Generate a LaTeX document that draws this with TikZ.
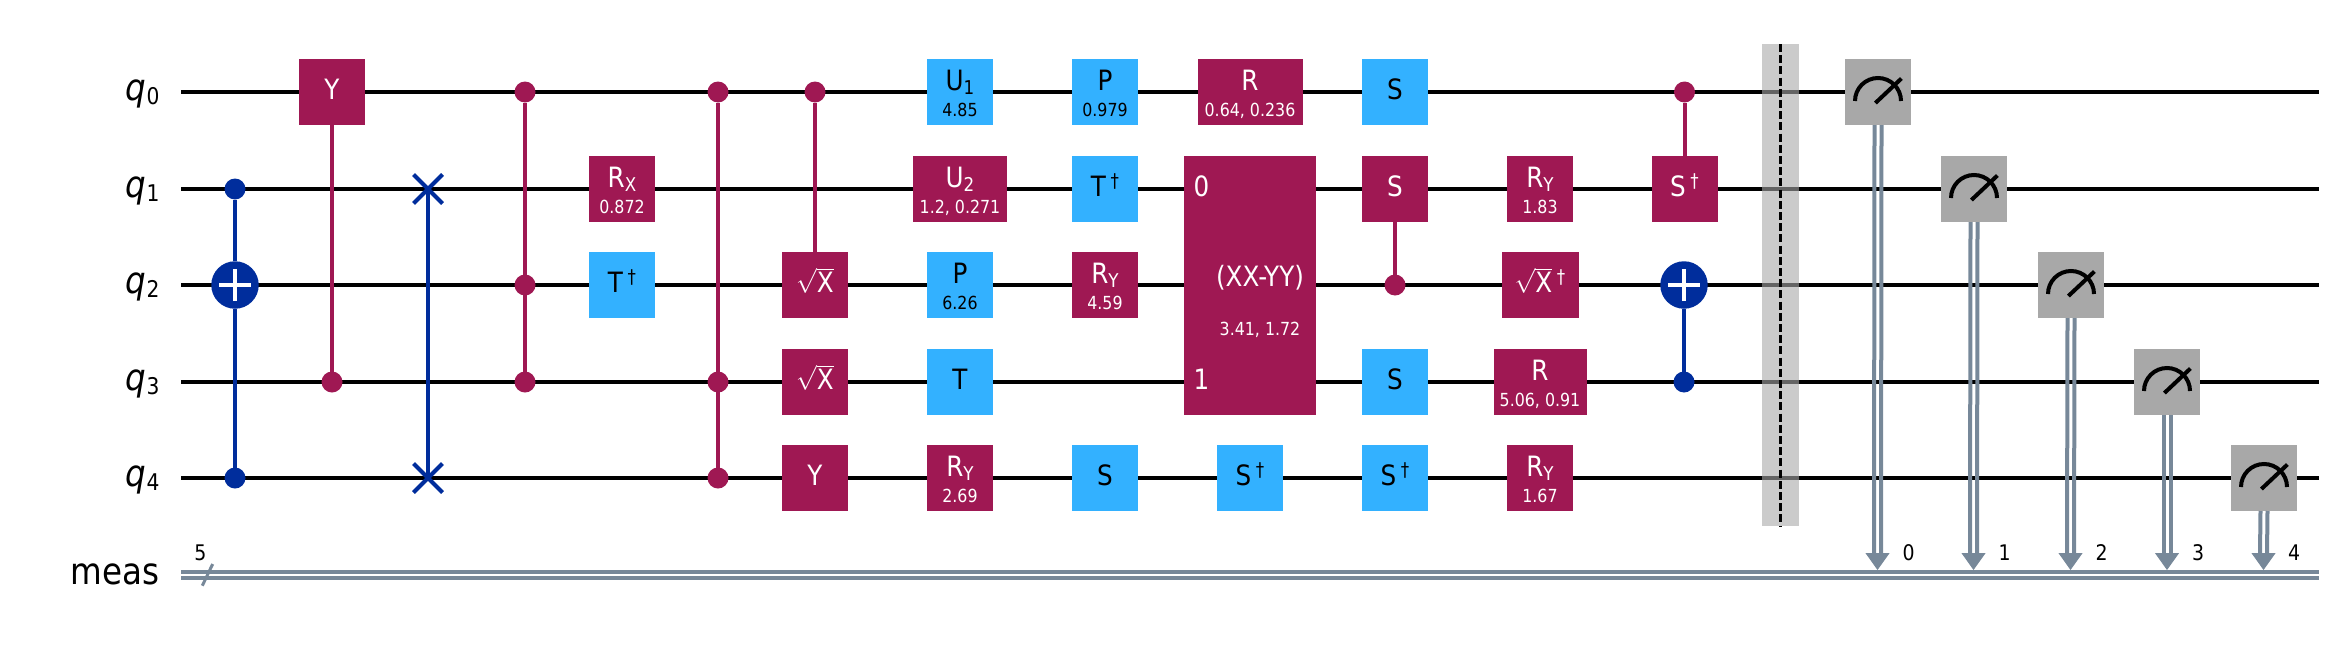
\documentclass[tikz,border=0pt]{standalone}
\usepackage{amsmath,fontspec}
\setmainfont{DejaVu Sans}[FakeStretch=0.88]
\usetikzlibrary{arrows.meta,shapes.misc}
\definecolor{qmag}{HTML}{9F1853}
\definecolor{qcyan}{HTML}{33B1FF}
\definecolor{qblue}{HTML}{002D9C}
\definecolor{qgray}{HTML}{A8A8A8}
\definecolor{qslate}{HTML}{778899}
\newcommand{\gs}[1]{\makebox[0pt]{\raisebox{-7.5pt}[0pt][0pt]{\fontsize{28}{28}\selectfont #1}}}
\newcommand{\gp}[2]{\makebox[0pt]{\raisebox{2pt}[0pt][0pt]{\fontsize{28}{28}\selectfont #1}}\makebox[0pt]{\raisebox{-24.5pt}[0pt][0pt]{\fontsize{18}{18}\selectfont #2}}}
\newcommand{\lsub}[1]{\raisebox{-4pt}{\fontsize{19}{19}\selectfont #1}}
\newcommand{\lsup}[1]{\,\raisebox{9pt}{\fontsize{19}{19}\selectfont #1}}
\newcommand{\qname}[1]{\itshape q\raisebox{-4pt}{\fontsize{23}{23}\selectfont\normalfont #1}}
\newcommand{\rootx}{$\sqrt{\mbox{X}}$}
\tikzset{
  wire/.style={line width=4.5pt,black},
  cwire/.style={line width=4pt,qslate},
  magbox/.style={rectangle,fill=qmag,text=white,minimum height=66pt,minimum width=66pt,inner sep=0pt,outer sep=0pt},
  cyanbox/.style={rectangle,fill=qcyan,text=black,minimum height=66pt,minimum width=66pt,inner sep=0pt,outer sep=0pt},
  meter/.style={rectangle,fill=qgray,minimum height=66pt,minimum width=66pt,inner sep=0pt,outer sep=0pt,
    path picture={\draw[line width=4pt,black] (path picture bounding box.center) ++(-23pt,-9pt) arc (180:0:23pt);
      \draw[line width=4pt,black] (path picture bounding box.center) ++(-2.6pt,-11pt) -- ++(26pt,24.5pt);}},
  magdot/.style={circle,fill=qmag,minimum size=21pt,inner sep=0pt,outer sep=0pt},
  bluedot/.style={circle,fill=qblue,minimum size=21pt,inner sep=0pt,outer sep=0pt},
  target/.style={circle,fill=qblue,minimum size=47.5pt,inner sep=0pt,outer sep=0pt,
    path picture={\draw[line width=4pt,white] (path picture bounding box.center) ++(-16pt,0pt) -- ++(32pt,0pt);
      \draw[line width=4pt,white] (path picture bounding box.center) ++(0pt,-16pt) -- ++(0pt,32pt);}},
  swapx/.style={cross out,draw=qblue,line width=4pt,minimum size=29pt,inner sep=0pt,outer sep=0pt},
  magline/.style={line width=4pt,qmag},
  blueline/.style={line width=4pt,qblue},
  regname/.style={anchor=base east,font=\fontsize{37}{37}\selectfont},
  bitnum/.style={anchor=center,font=\fontsize{21.5}{21.5}\selectfont},
  head/.style={-{Triangle[width=24pt,length=17pt]},line width=1pt,qslate}
}
\begin{document}
\begin{tikzpicture}[x=1pt,y=-1pt]
\useasboundingbox (0,0) rectangle (2342,648);
\coordinate (l0) at (181,92);
\coordinate (r0) at (2319,92);
\coordinate (l1) at (181,189);
\coordinate (r1) at (2319,189);
\coordinate (l2) at (181,285);
\coordinate (r2) at (2319,285);
\coordinate (l3) at (181,382);
\coordinate (r3) at (2319,382);
\coordinate (l4) at (181,478);
\coordinate (r4) at (2319,478);
\coordinate (lma) at (181,572);
\coordinate (rma) at (2319,572);
\coordinate (lmb) at (181,578);
\coordinate (rmb) at (2319,578);
\draw[wire] (l0)--(r0);
\draw[wire] (l1)--(r1);
\draw[wire] (l2)--(r2);
\draw[wire] (l3)--(r3);
\draw[wire] (l4)--(r4);
\draw[cwire] (lma)--(rma);
\draw[cwire] (lmb)--(rmb);
\node[regname] (nq0) at (163,100) {\qname{0}};
\node[regname] (nq1) at (163,197) {\qname{1}};
\node[regname] (nq2) at (163,293) {\qname{2}};
\node[regname] (nq3) at (163,390) {\qname{3}};
\node[regname] (nq4) at (163,486) {\qname{4}};
\node[regname] (nmeas) at (163,584) {meas};
\coordinate (sla) at (202.3,585.7);
\coordinate (slb) at (212.7,564);
\draw[line width=3pt,qslate] (sla)--(slb);
\node[bitnum] (nsize) at (200.5,553) {5};

\node[bluedot] (cx1c) at (235,189) {};
\node[target] (cx1t) at (235,285) {};
\node[bluedot] (cx1d) at (235,478) {};
\draw[blueline] (cx1c)--(cx1t);
\draw[blueline] (cx1t)--(cx1d);

\node[magdot] (cy1) at (332,382) {};
\node[magbox] (y1) at (332,92) {\gs{Y}};
\draw[magline] (y1)--(cy1);

\draw[blueline] (428,189) coordinate (sw1) -- (428,478) coordinate (sw2);
\node[swapx] (x1) at (sw1) {};
\node[swapx] (x2) at (sw2) {};

\node[magdot] (cz1a) at (525,92) {};
\node[magdot] (cz1b) at (525,285) {};
\node[magdot] (cz1c) at (525,382) {};
\draw[magline] (cz1a)--(cz1c);

\node[magbox] (rx1) at (622,189) {\gp{R\lsub{X}}{0.872}};
\node[cyanbox] (tdg1) at (622,285) {\gs{T\lsup{†}}};

\node[magdot] (cz2a) at (718,92) {};
\node[magdot] (cz2b) at (718,382) {};
\node[magdot] (cz2c) at (718,478) {};
\draw[magline] (cz2a)--(cz2c);

\node[magdot] (csx) at (815,92) {};
\node[magbox] (sx1) at (815,285) {\gs{\rootx}};
\node[magbox] (sx2) at (815,382) {\gs{\rootx}};
\node[magbox] (y2) at (815,478) {\gs{Y}};
\draw[magline] (csx)--(sx1);

\node[cyanbox] (u1) at (960,92) {\gp{U\lsub{1}}{4.85}};
\node[magbox,minimum width=94pt] (u2) at (960,189) {\gp{U\lsub{2}}{1.2, 0.271}};
\node[cyanbox] (p1) at (960,285) {\gp{P}{6.26}};
\node[cyanbox] (t1) at (960,382) {\gs{T}};
\node[magbox] (ry1) at (960,478) {\gp{R\lsub{Y}}{2.69}};

\node[cyanbox] (p2) at (1105,92) {\gp{P}{0.979}};
\node[cyanbox] (tdg2) at (1105,189) {\gs{T\lsup{†}}};
\node[magbox] (ry2) at (1105,285) {\gp{R\lsub{Y}}{4.59}};
\node[cyanbox] (s1) at (1105,478) {\gs{S}};

\node[magbox,minimum width=105pt] (r1g) at (1250,92) {\gp{R}{0.64, 0.236}};
\node[magbox,minimum width=132pt,minimum height=258.5pt] (xxyy) at (1250,285.3) {};
\node[text=white,font=\fontsize{28}{28}\selectfont] (xx0) at (1201.5,186) {0};
\node[text=white,font=\fontsize{28}{28}\selectfont] (xx1) at (1201.5,379) {1};
\node[text=white,font=\fontsize{28}{28}\selectfont] (xxn) at (1260,278) {(XX-YY)};
\node[text=white,font=\fontsize{18}{18}\selectfont] (xxp) at (1260,330) {3.41, 1.72};
\node[cyanbox] (sdg1) at (1250,478) {\gs{S\lsup{†}}};

\node[cyanbox] (s2) at (1395,92) {\gs{S}};
\node[magbox] (s3) at (1395,189) {\gs{S}};
\node[magdot] (cs3) at (1395,285) {};
\draw[magline] (s3)--(cs3);
\node[cyanbox] (s4) at (1395,382) {\gs{S}};
\node[cyanbox] (sdg2) at (1395,478) {\gs{S\lsup{†}}};

\node[magbox] (ry3) at (1540,189) {\gp{R\lsub{Y}}{1.83}};
\node[magbox,minimum width=77pt] (sxdg) at (1540,285) {\gs{\rootx\lsup{†}}};
\node[magbox,minimum width=93pt] (r2g) at (1540,382) {\gp{R}{5.06, 0.91}};
\node[magbox] (ry4) at (1540,478) {\gp{R\lsub{Y}}{1.67}};

\node[magdot] (csdg) at (1684.5,92) {};
\node[magbox] (sdg3) at (1684.5,189) {\gs{S\lsup{†}}};
\draw[magline] (csdg)--(sdg3);
\node[target] (cx2t) at (1684,285) {};
\node[bluedot] (cx2c) at (1684,382) {};
\draw[blueline] (cx2t)--(cx2c);

\node[rectangle,fill=qgray,fill opacity=.6,minimum width=37pt,minimum height=482pt,inner sep=0pt,outer sep=0pt] (bar) at (1780.5,285) {};
\draw[line width=2.8pt,black,dash pattern=on 8pt off 3.2pt] (bar.north)--(bar.south);

\node[meter] (m0) at (1878,92) {};
\node[meter] (m1) at (1974,189) {};
\node[meter] (m2) at (2071,285) {};
\node[meter] (m3) at (2167,382) {};
\node[meter] (m4) at (2264,478) {};
\coordinate (a0) at (1877.5,553);
\coordinate (a1) at (1973.5,553);
\coordinate (a2) at (2070.5,553);
\coordinate (a3) at (2167,553);
\coordinate (a4) at (2263.5,553);
\coordinate (t0) at (1877.5,570);
\coordinate (t1) at (1973.5,570);
\coordinate (t2) at (2070.5,570);
\coordinate (t3) at (2167,570);
\coordinate (t4) at (2263.5,570);
\draw[cwire] ([xshift=-3.5pt]m0.south)--([xshift=-3.5pt]a0);
\draw[cwire] ([xshift=3.5pt]m0.south)--([xshift=3.5pt]a0);
\draw[cwire] ([xshift=-3.5pt]m1.south)--([xshift=-3.5pt]a1);
\draw[cwire] ([xshift=3.5pt]m1.south)--([xshift=3.5pt]a1);
\draw[cwire] ([xshift=-3.5pt]m2.south)--([xshift=-3.5pt]a2);
\draw[cwire] ([xshift=3.5pt]m2.south)--([xshift=3.5pt]a2);
\draw[cwire] ([xshift=-3.5pt]m3.south)--([xshift=-3.5pt]a3);
\draw[cwire] ([xshift=3.5pt]m3.south)--([xshift=3.5pt]a3);
\draw[cwire] ([xshift=-3.5pt]m4.south)--([xshift=-3.5pt]a4);
\draw[cwire] ([xshift=3.5pt]m4.south)--([xshift=3.5pt]a4);
\draw[head] (a0)--(t0);
\draw[head] (a1)--(t1);
\draw[head] (a2)--(t2);
\draw[head] (a3)--(t3);
\draw[head] (a4)--(t4);
\node[bitnum] (b0) at (1908.5,553) {0};
\node[bitnum] (b1) at (2004.5,553) {1};
\node[bitnum] (b2) at (2101.5,553) {2};
\node[bitnum] (b3) at (2198,553) {3};
\node[bitnum] (b4) at (2294,553) {4};
\end{tikzpicture}
\end{document}
